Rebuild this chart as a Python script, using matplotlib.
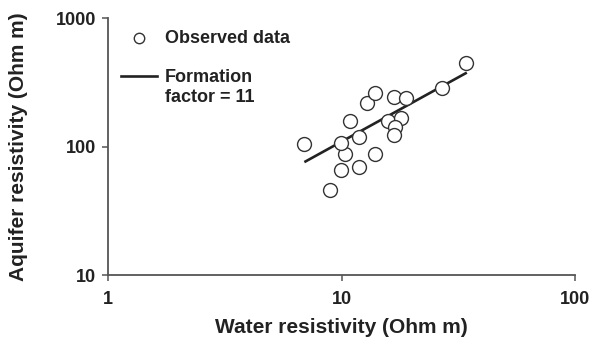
import numpy as np
import matplotlib
matplotlib.use("Agg")
import matplotlib.pyplot as plt

plt.rcParams['font.family'] = ['Liberation Sans', 'DejaVu Sans']
plt.rcParams['font.weight'] = 'bold'

water_res = [6.89, 8.91, 9.93, 10.3, 9.93, 10.85, 11.9, 11.9, 12.9, 13.9,
             13.9, 16.8, 18.9, 15.8, 18.0, 16.9, 16.8, 26.8, 34.0]
aquifer_res = [105, 46.1, 66.0, 87.9, 107.6, 159.6, 118.5, 70.0, 217.8, 260.6,
               87.9, 245.2, 238.3, 159.6, 166.5, 141.8, 122.9, 285, 445.6]

# formation factor = 11 line
line_x = [7.0, 34.0]
line_y = [77, 374]

dark = '#222222'

fig = plt.figure(figsize=(6.05, 3.4), dpi=100)
ax = fig.add_axes([0.179, 0.19, 0.7714, 0.756])

ln, = ax.plot(line_x, line_y, color=dark, lw=1.9, zorder=2)
sc = ax.scatter(water_res, aquifer_res, s=100, facecolors='white', edgecolors='#333333',
                linewidths=1.0, zorder=3)

ax.set_xscale('log')
ax.set_yscale('log')
ax.set_xlim(1, 100)
ax.set_ylim(10, 1000)
ax.set_xticks([1, 10, 100])
ax.set_xticklabels(['1', '10', '100'])
ax.set_yticks([10, 100, 1000])
ax.set_yticklabels(['10', '100', '1000'])
ax.minorticks_off()

for s in ['top', 'right']:
    ax.spines[s].set_visible(False)
for s in ['left', 'bottom']:
    ax.spines[s].set_color('#555555')
    ax.spines[s].set_linewidth(1.3)
ax.tick_params(direction='out', length=4, width=1.1, color='#555555',
               labelsize=13, labelcolor=dark)
ax.tick_params(axis='x', pad=7)
ax.tick_params(axis='y', pad=5)

ax.set_xlabel('Water resistivity (Ohm m)', fontsize=15, fontweight='bold', color=dark)
ax.set_ylabel('Aquifer resistivity (Ohm m)', fontsize=15, fontweight='bold', color=dark)
ax.xaxis.set_label_coords(0.5, -0.165)
ax.yaxis.set_label_coords(-0.172, 0.5)

leg = ax.legend([sc, ln], ['Observed data', 'Formation'], loc='upper left',
                bbox_to_anchor=(0.0, 1.005), frameon=False, fontsize=13,
                handlelength=2.0, handletextpad=0.45, labelspacing=1.25,
                markerscale=0.75, borderaxespad=0.3)
for t in leg.get_texts():
    t.set_color(dark)
fig.text(165 / 605, 1 - 98 / 340, 'factor = 11', fontsize=13, fontweight='bold',
         color=dark, ha='left', va='center')

fig.savefig('out.png', dpi=100)
